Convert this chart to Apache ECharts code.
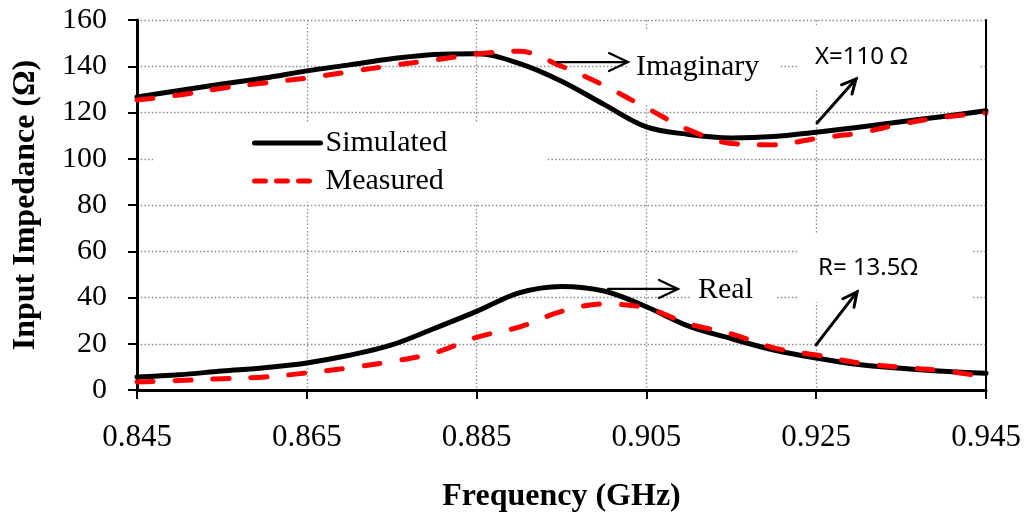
<!DOCTYPE html>
<html>
<head>
<meta charset="utf-8">
<script src="https://cdn.jsdelivr.net/npm/echarts@6/dist/echarts.min.js"></script>
<style>
  html, body { margin: 0; padding: 0; background: #fff; }
  #chart { width: 1029px; height: 514px; }
</style>
</head>
<body>
<div id="chart"></div>
<script>
// Frequency sweep (GHz)
const freq = [0.845, 0.850, 0.855, 0.860, 0.865, 0.870, 0.875, 0.880, 0.885, 0.890, 0.895,
              0.900, 0.905, 0.910, 0.915, 0.920, 0.925, 0.930, 0.935, 0.940, 0.945];

// Imaginary part of the input impedance (Ω)
const simImag  = [126.7, 129.5, 132.3, 134.9, 138.0, 140.6, 143.2, 145.1, 145.4, 141.2, 133.5,
                  123.5, 113.8, 110.5, 109.0, 109.6, 111.5, 113.6, 116.0, 118.3, 120.8];
const measImag = [125.4, 127.6, 130.5, 132.8, 134.9, 137.6, 140.3, 142.7, 145.3, 146.5, 140.0,
                  131.7, 122.0, 112.5, 106.6, 106.0, 108.8, 111.1, 115.0, 118.0, 119.8];

// Real part of the input impedance (Ω)
const simReal  = [5.6, 6.6, 8.2, 9.6, 11.7, 15.0, 19.5, 26.6, 34.0, 42.0, 44.8,
                  42.8, 36.0, 27.6, 22.2, 17.3, 13.8, 11.0, 9.4, 8.1, 7.2];
const measReal = [3.5, 4.1, 4.9, 5.6, 7.4, 9.6, 12.3, 16.0, 22.8, 27.2, 34.0,
                  37.2, 35.5, 28.6, 24.3, 18.2, 15.1, 11.7, 9.8, 8.3, 5.6];

// Axis ticks
const xTicks = [0.845, 0.865, 0.885, 0.905, 0.925, 0.945];

const serif = "'Liberation Serif', 'Times New Roman', serif";
const sans = "'Noto Sans', 'Open Sans', sans-serif";

const pairs = (ys) => freq.map((f, i) => [f, ys[i]]);

const solid = { color: '#000', width: 5, type: 'solid', cap: 'round', join: 'round' };
const dashed = { color: '#ff0000', width: 5, type: [16, 22], cap: 'round', join: 'round' };

const chart = echarts.init(document.getElementById('chart'), null, { renderer: 'canvas' });

const gridLine = { show: true, lineStyle: { color: '#8a8a8a', width: 1.3, type: [1.5, 2.2] } };

chart.setOption({
  animation: false,
  backgroundColor: '#fff',
  grid: { left: 137, right: 43, top: 20, bottom: 124, containLabel: false, outerBoundsMode: 'none' },
  legend: {
    orient: 'vertical',
    left: 153, top: 122,
    padding: [6, 100, 6, 99],
    backgroundColor: '#fff',
    itemWidth: 66, itemHeight: 28, itemGap: 8,
    itemStyle: { opacity: 0 },
    textStyle: { fontFamily: serif, fontSize: 30, color: '#000' },
    data: [
      { name: 'Simulated', lineStyle: { width: 5, color: '#000', type: 'solid', cap: 'round' } },
      { name: 'Measured', lineStyle: { width: 5, color: '#ff0000', type: [11, 11], cap: 'round' } }
    ]
  },
  xAxis: {
    type: 'value',
    min: 0.845, max: 0.945,
    name: 'Frequency (GHz)',
    nameLocation: 'middle',
    nameGap: 91,
    nameTextStyle: { fontFamily: serif, fontSize: 32, fontWeight: 'bold', color: '#000' },
    axisLine: { show: true, onZero: false, lineStyle: { color: '#000', width: 3 } },
    axisTick: { show: true, customValues: xTicks, length: 9, lineStyle: { color: '#000', width: 2 } },
    axisLabel: {
      customValues: xTicks, margin: 32,
      fontFamily: serif, fontSize: 31, color: '#000',
      formatter: (v) => v.toFixed(3)
    },
    splitLine: gridLine
  },
  yAxis: [{
    type: 'value',
    min: 0, max: 160, interval: 20,
    name: 'Input Impedance (Ω)',
    nameLocation: 'middle',
    nameGap: 95,
    nameTextStyle: { fontFamily: serif, fontSize: 32, fontWeight: 'bold', color: '#000' },
    axisLine: { show: true, lineStyle: { color: '#000', width: 3 } },
    axisTick: { show: true, length: 9, lineStyle: { color: '#000', width: 2 } },
    axisLabel: {
      margin: 30, fontFamily: serif, fontSize: 30, color: '#000',
      formatter: (v) => String(v)
    },
    splitLine: gridLine
  }, {
    type: 'value',
    position: 'right',
    min: 0, max: 160, interval: 20,
    z: 6,
    axisLine: { show: true, lineStyle: { color: '#000', width: 2 } },
    axisTick: { show: false },
    axisLabel: { show: false },
    splitLine: { show: false }
  }],
  series: [
    { name: 'Simulated', type: 'line', data: pairs(simImag), smooth: 0.35, symbol: 'none', lineStyle: solid, itemStyle: { color: '#000' }, z: 3 },
    { name: 'Measured',  type: 'line', data: pairs(measImag), smooth: 0.35, symbol: 'none', lineStyle: dashed, itemStyle: { color: '#ff0000' }, z: 4 },
    { name: 'Simulated', type: 'line', data: pairs(simReal), smooth: 0.35, symbol: 'none', lineStyle: solid, itemStyle: { color: '#000' }, z: 3 },
    { name: 'Measured',  type: 'line', data: pairs(measReal), smooth: 0.35, symbol: 'none', lineStyle: dashed, itemStyle: { color: '#ff0000' }, z: 4 }
  ]
});

// Annotations, anchored in data space (frequency, ohms)
const px = (f, v) => chart.convertToPixel({ gridIndex: 0 }, [f, v]);

function arrow(from, to, width, headLen, headHalf) {
  const a = px(from[0], from[1]);
  const b = px(to[0], to[1]);
  const dx = b[0] - a[0], dy = b[1] - a[1];
  const len = Math.hypot(dx, dy);
  const ux = dx / len, uy = dy / len;
  const nx = -uy, ny = ux;
  const h1 = [b[0] - ux * headLen + nx * headHalf, b[1] - uy * headLen + ny * headHalf];
  const h2 = [b[0] - ux * headLen - nx * headHalf, b[1] - uy * headLen - ny * headHalf];
  const st = { stroke: '#000', lineWidth: width, fill: null, lineCap: 'round', lineJoin: 'miter' };
  return [
    { type: 'polyline', z: 10, shape: { points: [a, b] }, style: st },
    { type: 'polyline', z: 10, shape: { points: [h1, b, h2] }, style: st }
  ];
}

// Text with a white box behind it; (f, v) is where the glyphs start
function label(text, f, v, font, size, pad) {
  const p = px(f, v);
  return {
    type: 'text', z: 1,
    x: p[0] - pad[3], y: p[1],
    style: {
      text: text, fill: '#000',
      font: size + 'px ' + font,
      verticalAlign: 'middle', align: 'left',
      backgroundColor: '#fff',
      padding: pad
    }
  };
}

chart.setOption({
  graphic: [
    label('Imaginary', 0.90378, 139.7, serif, 30, [22, 20, 22, 8]),
    label('X=110 Ω', 0.92486, 144.0, sans, 24, [20, 72, 20, 18]),
    label('Real', 0.91108, 43.2, serif, 30, [18, 24, 18, 8]),
    label('R= 13.5Ω', 0.92521, 52.8, sans, 24, [22, 55, 22, 20]),
    ...arrow([0.89447, 141.8], [0.90283, 141.8], 2.2, 19, 9),
    ...arrow([0.92509, 115.5], [0.92969, 134.5], 3, 14, 7),
    ...arrow([0.90048, 43.7], [0.90872, 43.7], 2.2, 19, 9),
    ...arrow([0.92498, 19.5], [0.92981, 42.4], 3, 14, 7)
  ]
});
</script>
</body>
</html>
